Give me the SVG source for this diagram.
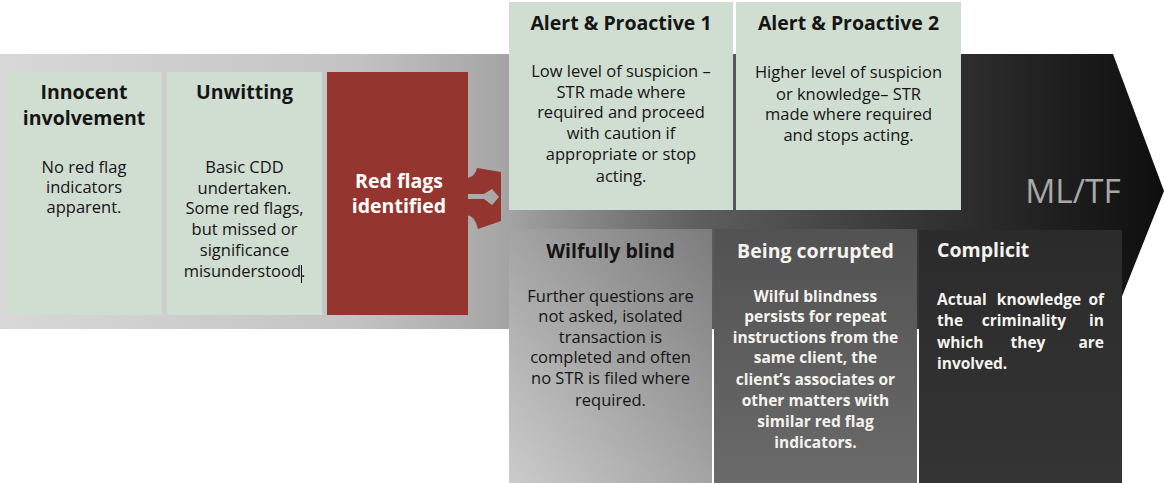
<svg xmlns="http://www.w3.org/2000/svg" width="1164" height="483" viewBox="0 0 1164 483">
  <style>
    .t { font-family: "Open Sans", Lato, "Liberation Sans", sans-serif; }
    .title { font-size: 19.5px; font-weight: 700; text-anchor: middle; fill: #151515; }
    .titleW { font-size: 19.5px; font-weight: 700; fill: #f5f3ee; }
    .body { font-size: 16.5px; font-weight: 400; text-anchor: middle; fill: #151515; }
    .bodyW { font-size: 15.5px; font-weight: 700; fill: #f5f3ee; }
    .mid { text-anchor: middle; }
    .green { fill: #d0ddd1; }
  </style>
  <defs>
    <linearGradient id="bandGrad" x1="0" y1="0" x2="1164" y2="0" gradientUnits="userSpaceOnUse">
      <stop offset="0" stop-color="#d8d8d8"/>
      <stop offset="0.3" stop-color="#c4c4c4"/>
      <stop offset="0.43" stop-color="#a6a6a6"/>
      <stop offset="0.6" stop-color="#5e5e5e"/>
      <stop offset="0.8" stop-color="#333333"/>
      <stop offset="1" stop-color="#0e0e0e"/>
    </linearGradient>
    <linearGradient id="blindGrad" x1="0" y1="1" x2="1" y2="0">
      <stop offset="0" stop-color="#cbcbcb"/>
      <stop offset="1" stop-color="#7c7c7c"/>
    </linearGradient>
    <linearGradient id="corruptGrad" x1="0" y1="0" x2="0" y2="1">
      <stop offset="0" stop-color="#525252"/>
      <stop offset="1" stop-color="#6a6a6a"/>
    </linearGradient>
    <linearGradient id="complicitGrad" x1="0" y1="0" x2="0" y2="1">
      <stop offset="0" stop-color="#2b2b2b"/>
      <stop offset="1" stop-color="#343434"/>
    </linearGradient>
  </defs>

  <!-- progression band ending in the ML/TF arrowhead -->
  <path id="band" d="M0,54 L1113,54 L1164,191 L1109,329 L0,329 Z" fill="url(#bandGrad)"/>
  <text class="t" x="1073" y="203" font-size="33.5" text-anchor="middle" fill="#a8a8a8">ML/TF</text>

  <g id="innocent">
    <rect class="green" x="6" y="72" width="156" height="243"/>
    <text class="t title" x="84" y="99">Innocent</text>
    <text class="t title" x="84" y="125">involvement</text>
    <text class="t body" x="84" y="173">No red flag</text>
    <text class="t body" x="84" y="193">indicators</text>
    <text class="t body" x="84" y="213">apparent.</text>
  </g>

  <g id="unwitting">
    <rect class="green" x="167" y="72" width="155" height="243"/>
    <text class="t title" x="244.5" y="99">Unwitting</text>
    <text class="t body" x="244.5" y="173">Basic CDD</text>
    <text class="t body" x="244.5" y="194">undertaken.</text>
    <text class="t body" x="244.5" y="214">Some red flags,</text>
    <text class="t body" x="244.5" y="235">but missed or</text>
    <text class="t body" x="244.5" y="256">significance</text>
    <text class="t body" x="244.5" y="277">misunderstood.</text>
    <line x1="301.5" y1="265" x2="301.5" y2="283" stroke="#111" stroke-width="1"/>
  </g>

  <g id="red-flags">
    <rect x="327" y="72" width="141" height="243" fill="#943530"/>
    <text class="t" x="399" y="188" font-size="19.5" font-weight="700" text-anchor="middle" fill="#ffffff">Red flags</text>
    <text class="t" x="399" y="213" font-size="19.5" font-weight="700" text-anchor="middle" fill="#ffffff">identified</text>
  </g>

  <g id="connectors">
    <!-- split arrow leading to the two outcome rows -->
    <path d="M467,178 Q475,177 477,168 L501,172 L501,221 L478,229 Q475,216 467,215 L467,199 L484,199 L492,205 L499,197 L492,189 L484,194 L467,194 Z" fill="#943530"/>
  </g>

  <g id="alert-1">
    <rect class="green" x="509" y="2" width="224" height="208"/>
    <text class="t title" x="621" y="30">Alert &amp; Proactive 1</text>
    <text class="t body" x="621" y="77">Low level of suspicion –</text>
    <text class="t body" x="621" y="98">STR made where</text>
    <text class="t body" x="621" y="118">required and proceed</text>
    <text class="t body" x="621" y="139">with caution if</text>
    <text class="t body" x="621" y="160">appropriate or stop</text>
    <text class="t body" x="621" y="182">acting.</text>
  </g>

  <g id="alert-2">
    <rect class="green" x="736" y="2" width="225" height="208"/>
    <text class="t title" x="848.5" y="30">Alert &amp; Proactive 2</text>
    <text class="t body" x="848.5" y="78">Higher level of suspicion</text>
    <text class="t body" x="848.5" y="100">or knowledge– STR</text>
    <text class="t body" x="848.5" y="120">made where required</text>
    <text class="t body" x="848.5" y="141">and stops acting.</text>
  </g>

  <g id="wilfully-blind">
    <rect x="509" y="229" width="203" height="254" fill="url(#blindGrad)"/>
    <text class="t title" x="610.5" y="258">Wilfully blind</text>
    <text class="t body" x="610.5" y="302">Further questions are</text>
    <text class="t body" x="610.5" y="322">not asked, isolated</text>
    <text class="t body" x="610.5" y="343">transaction is</text>
    <text class="t body" x="610.5" y="363">completed and often</text>
    <text class="t body" x="610.5" y="384">no STR is filed where</text>
    <text class="t body" x="610.5" y="406">required.</text>
  </g>

  <g id="being-corrupted">
    <rect x="714" y="229" width="203" height="254" fill="url(#corruptGrad)"/>
    <text class="t titleW mid" x="815.5" y="258">Being corrupted</text>
    <text class="t bodyW mid" x="815.5" y="302">Wilful blindness</text>
    <text class="t bodyW mid" x="815.5" y="322">persists for repeat</text>
    <text class="t bodyW mid" x="815.5" y="343">instructions from the</text>
    <text class="t bodyW mid" x="815.5" y="363">same client, the</text>
    <text class="t bodyW mid" x="815.5" y="385">client’s associates or</text>
    <text class="t bodyW mid" x="815.5" y="406">other matters with</text>
    <text class="t bodyW mid" x="815.5" y="427">similar red flag</text>
    <text class="t bodyW mid" x="815.5" y="448">indicators.</text>
  </g>

  <g id="complicit">
    <rect x="919" y="230" width="203" height="253" fill="url(#complicitGrad)"/>
    <text class="t titleW" x="937" y="257">Complicit</text>
    <!-- justified paragraph: words placed on each line -->
    <text class="t bodyW">
      <tspan x="937" y="305">Actual</tspan>
      <tspan x="1041" y="305" text-anchor="middle">knowledge</tspan>
      <tspan x="1104" y="305" text-anchor="end">of</tspan>
    </text>
    <text class="t bodyW">
      <tspan x="937" y="326">the</tspan>
      <tspan x="1026" y="326" text-anchor="middle">criminality</tspan>
      <tspan x="1104" y="326" text-anchor="end">in</tspan>
    </text>
    <text class="t bodyW">
      <tspan x="937" y="348">which</tspan>
      <tspan x="1030" y="348" text-anchor="middle">they</tspan>
      <tspan x="1104" y="348" text-anchor="end">are</tspan>
    </text>
    <text class="t bodyW" x="937" y="369">involved.</text>
  </g>
</svg>
